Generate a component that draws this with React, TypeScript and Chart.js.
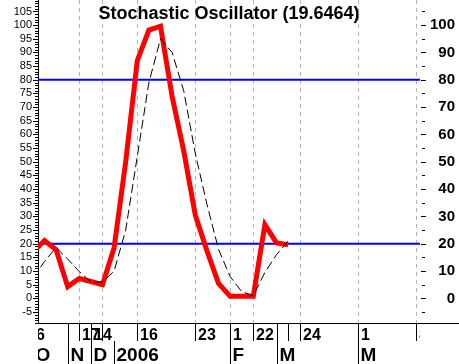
import React, { useEffect, useRef } from "react";
import { Chart, registerables } from "chart.js";

Chart.register(...registerables);

// %K (red) and %D (black dashed) values, one per period (index 0 lies just left of the plot)
const kValues = [17, 21.2, 17.8, 4.3, 7.3, 6.2, 5.0, 18.5, 50, 87, 98.2, 99.6, 74, 54, 30.5, 17.5, 5.5, 0.8, 0.8, 0.8, 27, 20.3, 19.65];
const dValues = [7.5, 13.5, 18.6, 14.4, 9.8, 6.0, 6.0, 10, 25, 52, 79, 95, 90, 76, 53, 34.5, 18, 8, 2.5, 1, 9.5, 16, 21];

const levelLines = [80, 20];
const gridPeriods = [4, 6, 9, 14, 17, 19, 23, 28, 33];

const dayTickIdx = [0, 3, 4, 5, 6, 9, 14, 17, 19, 21, 22, 23, 28, 33];
const dayTickLabels = ["6", "", "17", "14", "", "16", "23", "1", "22", "", "", "24", "1", "8"];
const monthTickIdx = [0, 3, 5, 7, 17, 21, 28];
const monthTickLabels = ["O", "N", "D", "2006", "F", "M", "M"];

const leftTicks = [-5, 0, 5, 10, 15, 20, 25, 30, 35, 40, 45, 50, 55, 60, 65, 70, 75, 80, 85, 90, 95, 100, 105];
const rightTicks = [0, 10, 20, 30, 40, 50, 60, 70, 80, 90, 100];

const titleText = "Stochastic Oscillator (19.6464)";

const Y_MIN = -9;
const Y_MAX = 109.2;
const X_MIN = 0.44;
const X_MAX = 33.37;

const FONT = "'Liberation Sans', Arial, sans-serif";

const overlayPlugin = {
  id: "overlay",
  beforeDatasetsDraw(chart: any) {
    const { ctx, chartArea: ca, scales } = chart;
    const xs = scales.x;
    const ys = scales.y;
    ctx.save();
    ctx.strokeStyle = "#b4b4b4";
    ctx.lineWidth = 1;
    ctx.setLineDash([4, 4]);
    gridPeriods.forEach((p) => {
      const px = Math.round(xs.getPixelForValue(p)) + 0.5;
      ctx.beginPath();
      ctx.moveTo(px, ca.top);
      ctx.lineTo(px, ca.bottom);
      ctx.stroke();
    });
    ctx.setLineDash([]);
    ctx.strokeStyle = "#0000ff";
    ctx.lineWidth = 2;
    levelLines.forEach((v) => {
      const py = ys.getPixelForValue(v);
      ctx.beginPath();
      ctx.moveTo(ca.left, py);
      ctx.lineTo(ca.right, py);
      ctx.stroke();
    });
    ctx.restore();
  },
  afterDraw(chart: any) {
    const { ctx, chartArea: ca, scales } = chart;
    const xs = scales.x;
    const ys = scales.y;
    ctx.save();
    ctx.strokeStyle = "#000";
    ctx.fillStyle = "#000";
    ctx.lineWidth = 1;
    for (let v = Math.ceil(Y_MIN); v <= Math.floor(Y_MAX); v++) {
      const py = Math.round(ys.getPixelForValue(v)) + 0.5;
      const len = v % 5 === 0 ? 5 : 3;
      ctx.beginPath();
      ctx.moveTo(ca.left - len, py);
      ctx.lineTo(ca.left, py);
      ctx.stroke();
    }
    for (let v = -5; v <= 105; v += 5) {
      const py = Math.round(ys.getPixelForValue(v)) + 0.5;
      const major = v % 10 === 0;
      ctx.beginPath();
      ctx.moveTo(ca.right + (major ? 1 : 2), py);
      ctx.lineTo(ca.right + (major ? 6 : 5), py);
      ctx.stroke();
    }
    ctx.font = `bold 18px ${FONT}`;
    ctx.textAlign = "center";
    ctx.textBaseline = "alphabetic";
    ctx.fillText(titleText, (ca.left + ca.right) / 2, 19);

    const rowTop = ca.bottom;
    const rowMid = ca.bottom + 18;
    const rowBottom = chart.height;
    // axis line continues to the right edge
    ctx.beginPath();
    ctx.moveTo(ca.right, Math.round(rowTop) + 0.5);
    ctx.lineTo(chart.width, Math.round(rowTop) + 0.5);
    ctx.stroke();

    ctx.beginPath();
    ctx.rect(ca.left, rowTop, ca.right - ca.left, rowBottom - rowTop);
    ctx.clip();
    ctx.textAlign = "left";
    ctx.font = `bold 16px ${FONT}`;
    dayTickIdx.forEach((p, i) => {
      const px = Math.round(xs.getPixelForValue(p)) + 0.5;
      ctx.beginPath();
      ctx.moveTo(px, rowTop);
      ctx.lineTo(px, rowMid);
      ctx.stroke();
      if (dayTickLabels[i]) ctx.fillText(dayTickLabels[i], px + 2.5, rowMid - 1.5);
    });
    ctx.font = `bold 19px ${FONT}`;
    monthTickIdx.forEach((p, i) => {
      const px = Math.round(xs.getPixelForValue(p)) + 0.5;
      ctx.beginPath();
      ctx.moveTo(px, rowMid);
      ctx.lineTo(px, rowBottom);
      ctx.stroke();
      if (monthTickLabels[i]) ctx.fillText(monthTickLabels[i], px + 2, rowBottom - 3);
    });
    ctx.restore();
  },
};

export default function App() {
  const canvasRef = useRef<HTMLCanvasElement | null>(null);

  useEffect(() => {
    if (!canvasRef.current) return;
    const noPad = (s: any) => {
      s.paddingTop = 0;
      s.paddingBottom = 0;
      s.paddingLeft = 0;
      s.paddingRight = 0;
    };
    const chart = new Chart(canvasRef.current, {
      type: "line",
      data: {
        datasets: [
          {
            label: "%D",
            data: dValues.map((v, i) => ({ x: i, y: v })),
            borderColor: "#000000",
            borderWidth: 1,
            borderDash: [9, 4],
            pointRadius: 0,
            tension: 0,
            clip: 0,
            order: 0,
          },
          {
            label: "%K",
            data: kValues.map((v, i) => ({ x: i, y: v })),
            borderColor: "#ff0000",
            borderWidth: 5,
            pointRadius: 0,
            tension: 0,
            clip: 0,
            order: 1,
          },
        ],
      },
      options: {
        responsive: false,
        animation: false,
        devicePixelRatio: 1,
        layout: { padding: { left: 0, right: 4, top: 0, bottom: 0 } },
        plugins: {
          legend: { display: false },
          title: { display: false },
          tooltip: { enabled: false },
        },
        scales: {
          x: {
            type: "linear",
            min: X_MIN,
            max: X_MAX,
            grid: { display: false },
            border: { display: true, color: "#000", width: 1 },
            ticks: { display: false },
            afterFit: (s: any) => {
              s.height = 41;
              noPad(s);
            },
          },
          y: {
            type: "linear",
            position: "left",
            min: Y_MIN,
            max: Y_MAX,
            grid: { display: false, drawTicks: false },
            border: { display: true, color: "#000", width: 1 },
            ticks: {
              autoSkip: false,
              padding: 6,
              color: "#000",
              font: { family: FONT, size: 11 },
            },
            afterBuildTicks: (s: any) => {
              s.ticks = leftTicks.map((v) => ({ value: v }));
            },
            afterFit: (s: any) => {
              s.width = 38;
              noPad(s);
            },
          },
          y2: {
            type: "linear",
            position: "right",
            min: Y_MIN,
            max: Y_MAX,
            grid: { display: false, drawTicks: false },
            border: { display: false },
            ticks: {
              autoSkip: false,
              crossAlign: "far",
              color: "#000",
              font: { family: FONT, size: 15, weight: "bold" },
            },
            afterBuildTicks: (s: any) => {
              s.ticks = rightTicks.map((v) => ({ value: v }));
            },
            afterFit: (s: any) => {
              s.width = 35;
              noPad(s);
            },
          },
        },
      },
      plugins: [overlayPlugin],
    });
    return () => chart.destroy();
  }, []);

  return (
    <div style={{ position: "absolute", left: 0, top: 0, width: 459, height: 364, background: "#fff" }}>
      <canvas ref={canvasRef} width={459} height={364} style={{ display: "block" }} />
    </div>
  );
}
